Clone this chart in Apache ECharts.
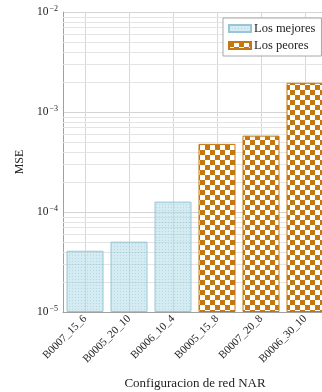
<!DOCTYPE html>
<html>
<head>
<meta charset="utf-8">
<script src="https://cdn.jsdelivr.net/npm/echarts@6/dist/echarts.min.js"></script>
<style>
  html, body { margin: 0; padding: 0; background: #fff; }
  #chart { width: 322px; height: 392px; }
</style>
</head>
<body>
<div id="chart"></div>
<script>
// Network configurations and their mean squared error
const categories = ['B0007_15_6', 'B0005_20_10', 'B0006_10_4', 'B0005_15_8', 'B0007_20_8', 'B0006_30_10'];
const mejores = [4.1e-5, 5.05e-5, 1.27e-4, '-', '-', '-'];
const peores = ['-', '-', '-', 4.8e-4, 5.8e-4, 1.96e-3];
const decades = [-5, -4, -3, -2];

const SERIF = '"Liberation Serif", "DejaVu Serif", serif';

// Fine dotted light-blue fill
function dotPattern() {
  const c = document.createElement('canvas');
  c.width = 3; c.height = 3;
  const g = c.getContext('2d');
  g.fillStyle = 'rgba(173, 216, 230, 0.52)';
  g.fillRect(0, 0, 3, 3);
  g.fillStyle = 'rgba(110, 170, 195, 0.3)';
  g.fillRect(0, 0, 1, 1);
  return c;
}

// Brown/white checkerboard fill
function checkerPattern() {
  const c = document.createElement('canvas');
  c.width = 10; c.height = 10;
  const g = c.getContext('2d');
  g.fillStyle = '#c4770f';
  g.fillRect(0, 0, 5, 5);
  g.fillRect(5, 5, 5, 5);
  g.fillStyle = 'rgba(255, 255, 255, 0.92)';
  g.fillRect(5, 0, 5, 5);
  g.fillRect(0, 5, 5, 5);
  return c;
}

// Minor grid values 2..9 within each decade
const minorValues = [];
decades.slice(0, -1).forEach(d => {
  for (let k = 2; k <= 9; k++) minorValues.push(k * Math.pow(10, d));
});

const chart = echarts.init(document.getElementById('chart'), null, { renderer: 'canvas' });

chart.setOption({
  animation: false,
  backgroundColor: '#fff',
  grid: { left: 63, top: 12, width: 264, height: 300, outerBoundsMode: 'none', containLabel: false },
  legend: {
    orient: 'vertical',
    left: 223,
    top: 18,
    data: ['Los mejores', 'Los peores'],
    icon: 'rect',
    itemWidth: 22,
    itemHeight: 7,
    itemGap: 4,
    padding: [4, 6, 4, 5],
    borderColor: '#a8a8a8',
    borderWidth: 1,
    backgroundColor: '#fff',
    textStyle: { fontFamily: SERIF, fontSize: 12.5, color: '#222', padding: [0, 0, 0, -2] }
  },
  xAxis: {
    type: 'category',
    data: categories,
    name: 'Configuracion de red NAR',
    nameLocation: 'middle',
    nameGap: 65,
    nameTextStyle: { fontFamily: SERIF, fontSize: 13, color: '#222' },
    axisLine: { lineStyle: { color: '#a0a0a0' } },
    axisTick: { show: false },
    axisLabel: { rotate: 45, margin: 5, interval: 0, fontFamily: SERIF, fontSize: 11, color: '#222' },
    splitLine: { show: true, alignWithLabel: true, lineStyle: { color: '#d8d8d8', width: 1 } }
  },
  yAxis: {
    type: 'log',
    logBase: 10,
    min: 1e-5,
    max: 1e-2,
    startValue: 1e-5,
    name: 'MSE',
    nameLocation: 'middle',
    nameGap: 35,
    nameRotate: 90,
    nameTextStyle: { fontFamily: SERIF, fontSize: 12, color: '#222' },
    axisLine: { show: true, lineStyle: { color: '#a0a0a0' } },
    axisTick: { show: false },
    axisLabel: {
      margin: 5,
      fontFamily: SERIF,
      color: '#222',
      formatter: v => {
        const e = Math.round(Math.log10(v));
        return '{b|10}{s|\u2212' + Math.abs(e) + '}';
      },
      rich: {
        b: { fontFamily: SERIF, fontSize: 11.5, color: '#222' },
        s: { fontFamily: SERIF, fontSize: 8, color: '#222', padding: [0, 0, 7, 1] }
      }
    },
    splitLine: { show: true, lineStyle: { color: '#d4d4d4', width: 1 } }
  },
  series: [
    {
      // minor horizontal grid lines at 2..9 of each decade
      name: 'minor-grid',
      type: 'custom',
      silent: true,
      z: 1,
      data: minorValues.map(v => [0, v]),
      encode: { x: 0, y: 1 },
      renderItem: (params, api) => {
        const y = Math.round(api.coord([0, api.value(1)])[1]) + 0.5;
        const cs = params.coordSys;
        return {
          type: 'line',
          shape: { x1: cs.x, y1: y, x2: cs.x + cs.width, y2: y },
          style: { stroke: '#e4e4e4', lineWidth: 1 }
        };
      }
    },
    {
      name: 'Los mejores',
      type: 'bar',
      data: mejores,
      barWidth: 37,
      barGap: '-100%',
      z: 2,
      itemStyle: {
        color: { image: dotPattern(), repeat: 'repeat' },
        borderColor: '#98c6d4',
        borderWidth: 1
      }
    },
    {
      name: 'Los peores',
      type: 'bar',
      data: peores,
      barWidth: 37,
      barGap: '-100%',
      z: 2,
      itemStyle: {
        color: { image: checkerPattern(), repeat: 'repeat' },
        borderColor: '#c4770f',
        borderWidth: 1
      }
    }
  ]
});
</script>
</body>
</html>
